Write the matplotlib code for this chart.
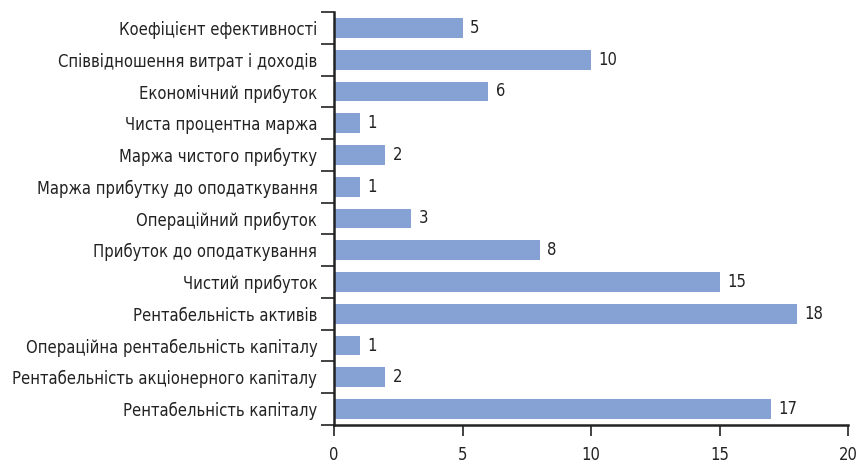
import matplotlib
matplotlib.use("Agg")
import matplotlib.pyplot as plt
from matplotlib import font_manager
import numpy as np

categories = [
    "Коефіцієнт ефективності",
    "Співвідношення витрат і доходів",
    "Економічний прибуток",
    "Чиста процентна маржа",
    "Маржа чистого прибутку",
    "Маржа прибутку до оподаткування",
    "Операційний прибуток",
    "Прибуток до оподаткування",
    "Чистий прибуток",
    "Рентабельність активів",
    "Операційна рентабельність капіталу",
    "Рентабельність акціонерного капіталу",
    "Рентабельність капіталу",
]
values = [5, 10, 6, 1, 2, 1, 3, 8, 15, 18, 1, 2, 17]
xticks = [0, 5, 10, 15, 20]

# pick a condensed font if one is installed
fontprop = None
for f in font_manager.fontManager.ttflist:
    fn = f.fname.lower()
    if ('narrow' in fn or 'condensed' in fn) and 'bold' not in fn and 'italic' not in fn and 'oblique' not in fn:
        if 'liberation' in fn or 'dejavusans' in fn.replace('-', '').replace(' ', '') or 'roboto' in fn:
            fontprop = font_manager.FontProperties(fname=f.fname)
            break
if fontprop is None:
    fontprop = font_manager.FontProperties(family=['Liberation Sans', 'DejaVu Sans'])

fig = plt.figure(figsize=(8.56, 4.63), dpi=100)
ax = fig.add_axes([334/856, 1-425/463, (848-334)/856, (425-12)/463])

# size text so the longest label fits the reference width
fs = 12.5
renderer = fig.canvas.get_renderer()
fp = fontprop.copy()
fp.set_size(fs)
t = fig.text(0, 0, categories[11], fontproperties=fp)
w = t.get_window_extent(renderer).width
t.remove()
if w > 305:
    fs = fs * 305 / w

def prop():
    p = fontprop.copy()
    p.set_size(fs)
    return p

n = len(categories)
y = np.arange(n)
ax.barh(y, values, height=0.62, color='#86a2d4')
ax.set_ylim(n - 0.5, -0.5)
ax.set_xlim(0, 20)

ax.set_yticks(y)
ax.set_yticklabels(categories, color='#222222')
for lab in ax.get_yticklabels():
    lab.set_fontproperties(prop())
ax.tick_params(axis='y', which='major', length=0, pad=12)
ax.set_yticks(np.arange(n + 1) - 0.5, minor=True)
ax.tick_params(axis='y', which='minor', length=9.5, width=1.2, color='#222222')

ax.set_xticks(xticks)
ax.set_xticklabels([str(t) for t in xticks], color='#222222')
for lab in ax.get_xticklabels():
    lab.set_fontproperties(prop())
ax.tick_params(axis='x', length=8, width=1.2, color='#222222', pad=7)

for s in ['top', 'right']:
    ax.spines[s].set_visible(False)
for s in ['left', 'bottom']:
    ax.spines[s].set_linewidth(1.8)
    ax.spines[s].set_color('#222222')

for yi, v in zip(y, values):
    ax.text(v + 0.3, yi, str(v), va='center', ha='left', color='#222222', fontproperties=prop())

fig.savefig("out.png", dpi=100)
